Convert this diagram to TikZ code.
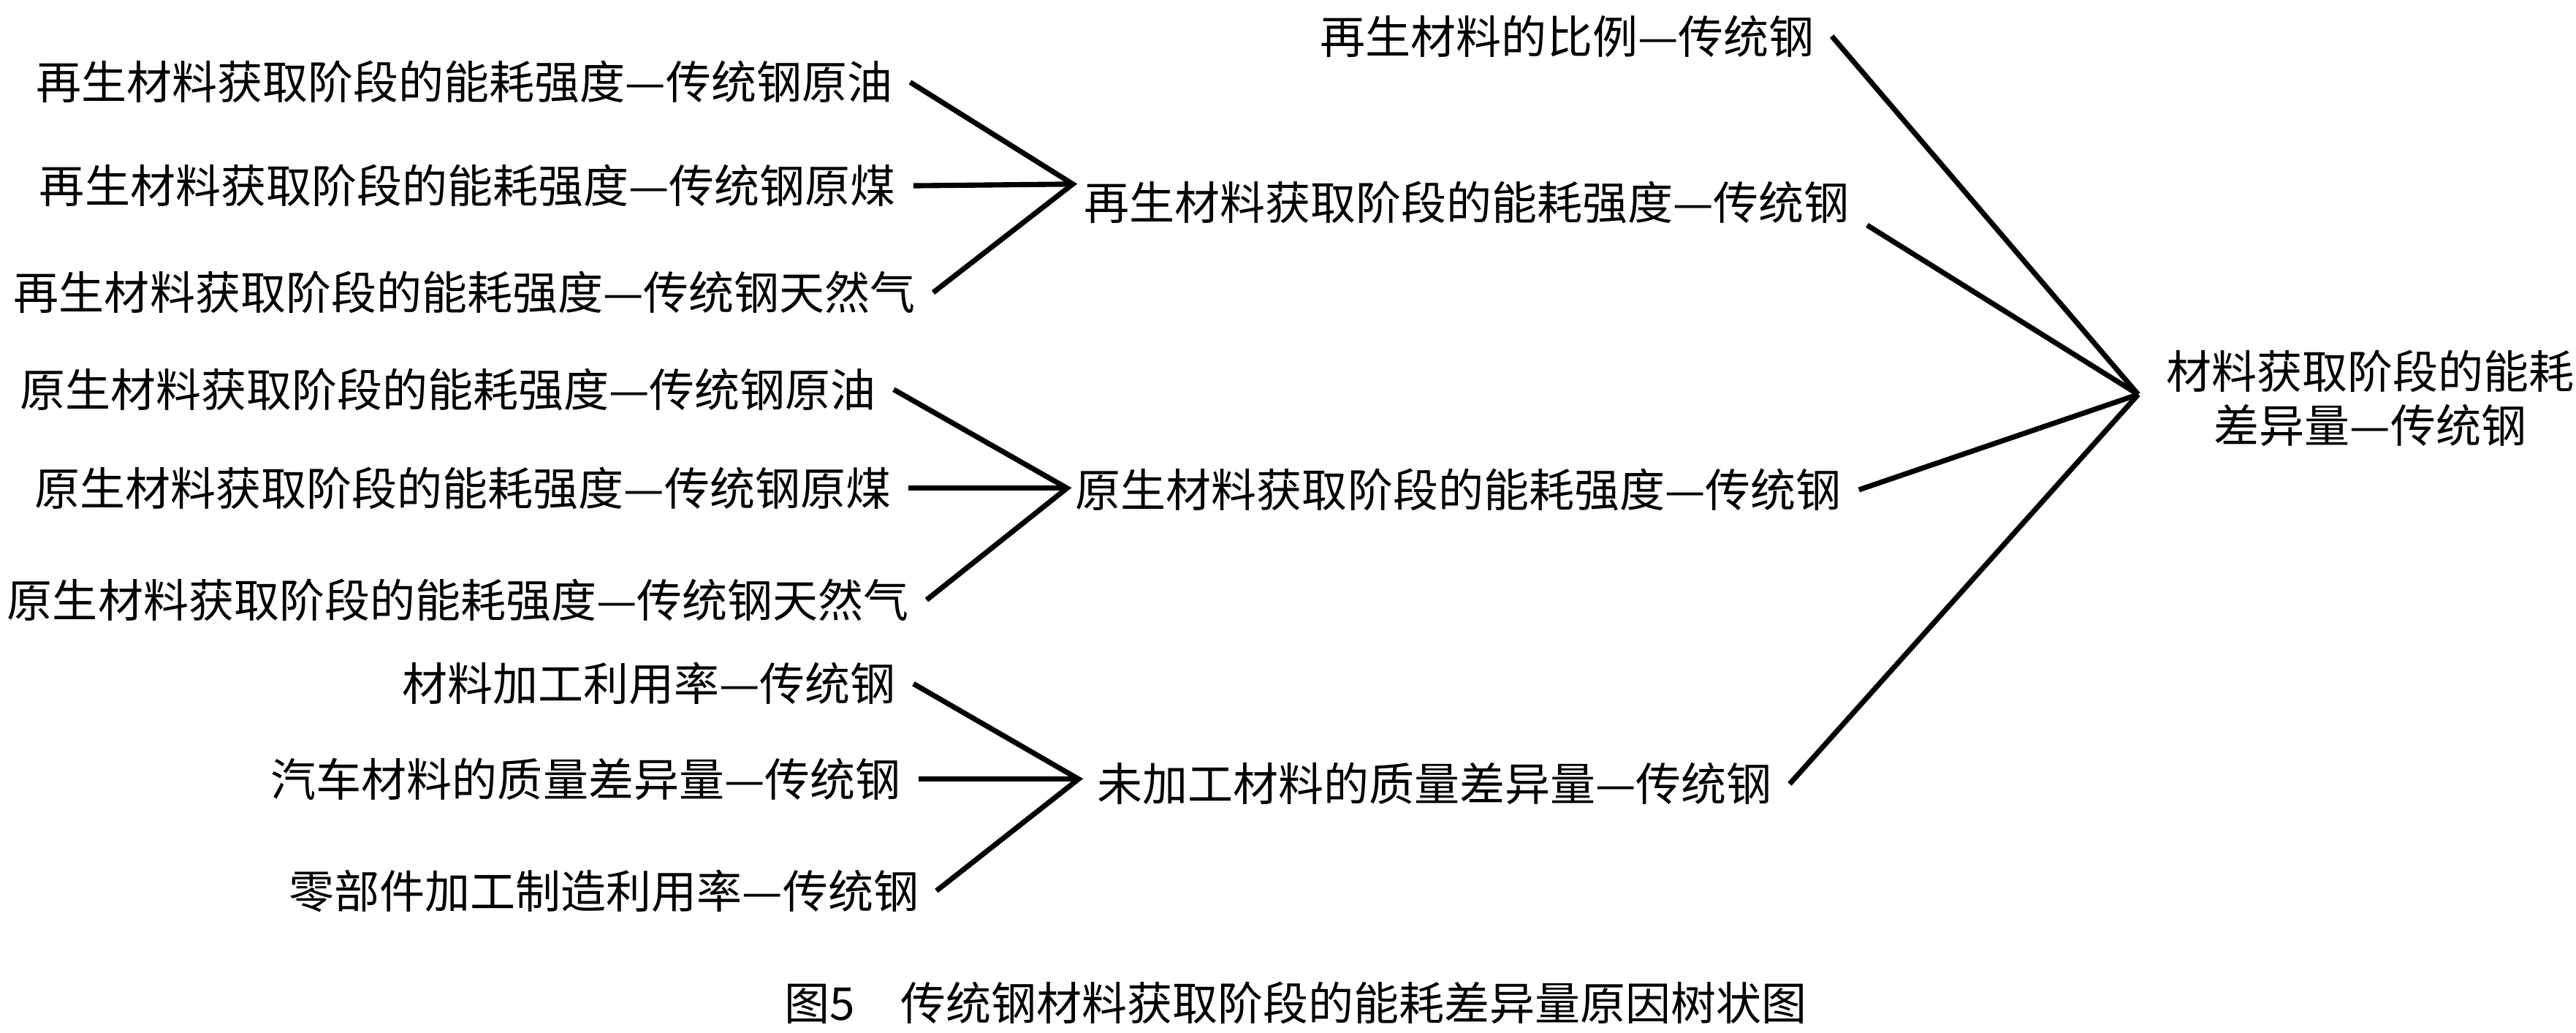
\documentclass[tikz,border=0pt]{standalone}
\usepackage{fontspec}
\newfontfamily\cjk{Noto Sans CJK SC}
\tikzset{
  label/.style={font=\cjk\fontsize{7.85pt}{9.4pt}\selectfont, inner sep=0.1cm},
  link/.style={line width=0.9pt}
}
\begin{document}
\begin{tikzpicture}
                \useasboundingbox (0,0) rectangle (15.68,-6.285);

                % Leaf causes
                \node[label, anchor=east] (ro) at (5.54,-0.50) {再生材料获取阶段的能耗强度—传统钢原油};
                \node[label, anchor=east] (rc) at (5.56,-1.13) {再生材料获取阶段的能耗强度—传统钢原煤};
                \node[label, anchor=east] (rg) at (5.68,-1.78) {再生材料获取阶段的能耗强度—传统钢天然气};
                \node[label, anchor=east] (po) at (5.44,-2.37) {原生材料获取阶段的能耗强度—传统钢原油};
                \node[label, anchor=east] (pc) at (5.53,-2.97) {原生材料获取阶段的能耗强度—传统钢原煤};
                \node[label, anchor=east] (pg) at (5.64,-3.65) {原生材料获取阶段的能耗强度—传统钢天然气};
                \node[label, anchor=east] (mu) at (5.56,-4.16) {材料加工利用率—传统钢};
                \node[label, anchor=east] (cm) at (5.59,-4.74) {汽车材料的质量差异量—传统钢};
                \node[label, anchor=east] (pu) at (5.70,-5.42) {零部件加工制造利用率—传统钢};

                % Middle causes
                \node[label, anchor=west] (rint) at (6.49,-1.23) {再生材料获取阶段的能耗强度—传统钢};
                \node[label, anchor=west] (pint) at (6.44,-2.98) {原生材料获取阶段的能耗强度—传统钢};
                \node[label, anchor=west] (raw) at (6.57,-4.77) {未加工材料的质量差异量—传统钢};
                \node[label, anchor=east] (ratio) at (11.15,-0.22) {再生材料的比例—传统钢};

                % Root
                \node[label, anchor=west, align=center] (root) at (13.08,-2.425) {材料获取阶段的能耗\\差异量—传统钢};

                % Junctions
                \coordinate (j1) at (6.53,-1.12);
                \coordinate (j2) at (6.495,-2.97);
                \coordinate (j3) at (6.565,-4.74);
                \coordinate (jr) at (13.015,-2.40);

                % Branches to middle causes
                \draw[link] (ro.east) -- (j1) -- (rg.east);
                \draw[link] (rc.east) -- (j1);
                \draw[link] (po.east) -- (j2) -- (pg.east);
                \draw[link] (pc.east) -- (j2);
                \draw[link] (mu.east) -- (j3) -- (pu.east);
                \draw[link] (cm.east) -- (j3);

                % Branches to root
                \draw[link] (ratio.east) -- (jr);
                \draw[link] ([yshift=-0.14cm]rint.east) -- (jr);
                \draw[link] (pint.east) -- (jr);
                \draw[link] (raw.east) -- (jr);

                % Caption
                \node[label, anchor=west] (cap) at (4.67,-6.10) {图5　传统钢材料获取阶段的能耗差异量原因树状图};
            \end{tikzpicture}
\end{document}
